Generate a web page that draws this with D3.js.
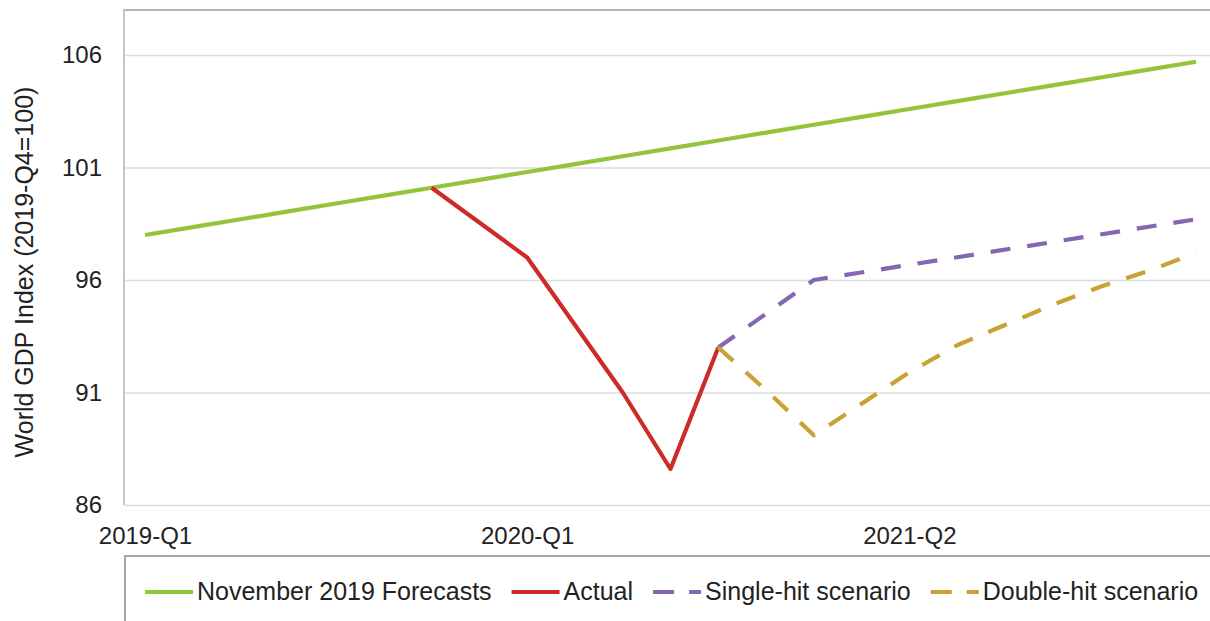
<!DOCTYPE html>
<html>
<head>
<meta charset="utf-8">
<script src="https://cdn.jsdelivr.net/npm/d3@7"></script>
<style>
  html, body { margin: 0; padding: 0; background: #ffffff; }
  svg { display: block; font-family: "Liberation Sans", Arial, sans-serif; }
</style>
</head>
<body>
<svg id="chart" width="1210" height="621"></svg>
<script>
// Period positions along the x axis (23 evenly spaced steps)
const periods = d3.range(23);

// Tick labels on the x axis and the period they sit on
const xTickLabels = ["2019-Q1", "2020-Q1", "2021-Q2"];
const xTickPeriods = [0, 8, 16];

// Y axis ticks
const yTicks = [86, 91, 96, 101, 106];

// World GDP index, 2019-Q4 = 100
const forecastNov2019 = [98.0, 98.35, 98.7, 99.05, 99.4, 99.75, 100.1, 100.45, 100.8, 101.15,
  101.5, 101.85, 102.2, 102.55, 102.9, 103.25, 103.6, 103.95, 104.3, 104.65, 105.0, 105.35, 105.7];
const actual = [null, null, null, null, null, null, 100.1, null, 97.0, null, 91.0, 87.6, 93.0,
  null, null, null, null, null, null, null, null, null, null];
const singleHit = [null, null, null, null, null, null, null, null, null, null, null, null, 93.0,
  null, 96.0, null, null, null, null, null, null, null, 98.7];
const doubleHit = [null, null, null, null, null, null, null, null, null, null, null, null, 93.0,
  91.1, 89.1, 90.5, 91.9, 93.1, 94.0, 94.9, 95.7, 96.4, 97.2];

const seriesNames = ["November 2019 Forecasts", "Actual", "Single-hit scenario", "Double-hit scenario"];
const seriesValues = [forecastNov2019, actual, singleHit, doubleHit];
const seriesColors = ["#95c43a", "#cd2b27", "#8566b0", "#c9a234"];
const seriesDash = [null, null, "20,17", "20,17"];

const svg = d3.select("#chart");
const W = 1210;
const plot = { left: 124, top: 10, right: 1230, bottom: 505 };

const x = d3.scaleLinear().domain([0, 22]).range([145, 1196]);
const y = d3.scaleLinear().domain([86, 108]).range([plot.bottom, plot.top]);

// Horizontal gridlines
const grid = svg.append("g")
  .attr("transform", `translate(${plot.left},0)`)
  .call(d3.axisLeft(y).tickValues(yTicks).tickSize(-(plot.right - plot.left)).tickFormat(""));
grid.select(".domain").remove();
grid.selectAll(".tick line").attr("stroke", "#dcdcdc").attr("stroke-width", 1.6);

// Top frame line and left axis line
svg.append("line")
  .attr("x1", plot.left).attr("x2", W + 5)
  .attr("y1", plot.top).attr("y2", plot.top)
  .attr("stroke", "#b3b3b3").attr("stroke-width", 2);
svg.append("line")
  .attr("x1", plot.left).attr("x2", plot.left)
  .attr("y1", plot.top - 1).attr("y2", plot.bottom)
  .attr("stroke", "#c6c6c6").attr("stroke-width", 2);

// Y tick labels
const yAxis = svg.append("g")
  .attr("transform", `translate(${plot.left - 22},0)`)
  .call(d3.axisLeft(y).tickValues(yTicks).tickSize(0).tickPadding(0).tickFormat(d3.format("d")));
yAxis.select(".domain").remove();
yAxis.selectAll("text")
  .attr("font-size", 24).attr("fill", "#222").attr("font-family", "Liberation Sans, Arial, sans-serif");

// X tick labels
const xAxis = svg.append("g")
  .attr("transform", `translate(0,${plot.bottom})`)
  .call(d3.axisBottom(x).tickValues(xTickPeriods).tickSize(0).tickPadding(0)
    .tickFormat((d, i) => xTickLabels[i]));
xAxis.select(".domain").remove();
xAxis.selectAll("text")
  .attr("font-size", 24).attr("fill", "#222").attr("dy", null).attr("y", 39)
  .attr("font-family", "Liberation Sans, Arial, sans-serif");

// Y axis title
svg.append("text")
  .attr("transform", "translate(33,272) rotate(-90)")
  .attr("text-anchor", "middle")
  .attr("font-size", 25).attr("fill", "#222")
  .text("World GDP Index (2019-Q4=100)");

// Series lines
const line = d3.line().x(d => x(d.i)).y(d => y(d.v));
seriesValues.forEach((vals, k) => {
  const pts = vals.map((v, i) => ({ i: periods[i], v })).filter(d => d.v !== null);
  svg.append("path")
    .datum(pts)
    .attr("d", line)
    .attr("fill", "none")
    .attr("stroke", seriesColors[k])
    .attr("stroke-width", 4.2)
    .attr("stroke-linejoin", "round")
    .attr("stroke-dasharray", seriesDash[k]);
});

// Legend frame
svg.append("path")
  .attr("d", `M125,${621 + 5}V556H${W + 5}`)
  .attr("fill", "none").attr("stroke", "#a6a6a6").attr("stroke-width", 2);

// Legend items laid out left to right
let lx = 145;
const ly = 592;
seriesNames.forEach((name, k) => {
  svg.append("line")
    .attr("x1", lx).attr("x2", lx + 48)
    .attr("y1", ly).attr("y2", ly)
    .attr("stroke", seriesColors[k]).attr("stroke-width", 4.2)
    .attr("stroke-dasharray", seriesDash[k] ? "21,15" : null);
  const t = svg.append("text")
    .attr("x", lx + 52).attr("y", ly + 8)
    .attr("font-size", 25).attr("fill", "#222")
    .text(name);
  lx = lx + 52 + t.node().getComputedTextLength() + 20;
});
</script>
</body>
</html>
